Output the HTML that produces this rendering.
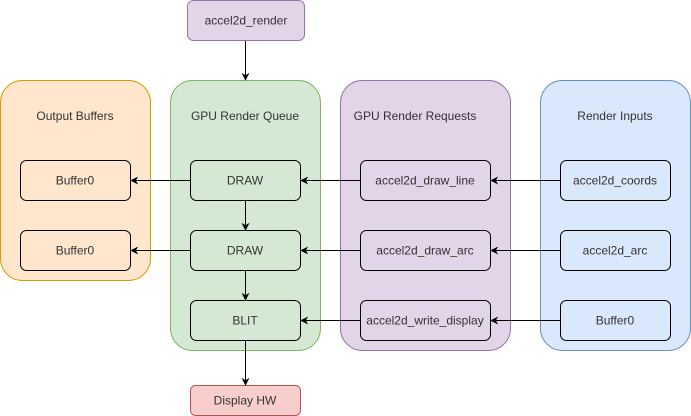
<!DOCTYPE html>
<html><head><meta charset="utf-8"><style>
html,body{margin:0;padding:0;background:#fff;}
svg{display:block;}
text{font-family:"Liberation Sans",Arial,sans-serif;font-size:12px;fill:#333;text-anchor:middle;dominant-baseline:central;}
</style></head><body>
<svg width="691" height="416" viewBox="0 0 691 416">
<defs><marker id="a" viewBox="0 0 10 10" refX="9" refY="5" markerWidth="8" markerHeight="8" markerUnits="userSpaceOnUse" orient="auto"><path d="M0,0 L10,5 L0,10 L3,5 Z" fill="#000"/></marker></defs>
<rect x="187.5" y="0.5" width="117" height="40" rx="6" fill="#e1d5e7" stroke="#9673a6"/>
<text x="246" y="20.5">accel2d_render</text>
<rect x="0.5" y="80.5" width="150" height="200" rx="22" fill="#ffe6cc" stroke="#d79b00"/>
<rect x="170.5" y="80.5" width="150" height="270" rx="22" fill="#d5e8d4" stroke="#82b366"/>
<rect x="340.5" y="80.5" width="170" height="270" rx="22" fill="#e1d5e7" stroke="#9673a6"/>
<rect x="540.5" y="80.5" width="150" height="270" rx="22" fill="#dae8fc" stroke="#6c8ebf"/>
<text x="75" y="116">Output Buffers</text>
<text x="245" y="116">GPU Render Queue</text>
<text x="415" y="116">GPU Render Requests</text>
<text x="615" y="116">Render Inputs</text>
<g stroke="#000" fill="none">
<rect x="20.5" y="160.5" width="110" height="40" rx="6"/>
<rect x="20.5" y="230.5" width="110" height="40" rx="6"/>
<rect x="190.5" y="160.5" width="110" height="40" rx="6"/>
<rect x="190.5" y="230.5" width="110" height="40" rx="6"/>
<rect x="190.5" y="300.5" width="110" height="40" rx="6"/>
<rect x="360.5" y="160.5" width="130" height="40" rx="6"/>
<rect x="360.5" y="230.5" width="130" height="40" rx="6"/>
<rect x="360.5" y="300.5" width="130" height="40" rx="6"/>
<rect x="560.5" y="160.5" width="110" height="40" rx="6"/>
<rect x="560.5" y="230.5" width="110" height="40" rx="6"/>
<rect x="560.5" y="300.5" width="110" height="40" rx="6"/>
</g>
<rect x="190.5" y="385.5" width="110" height="30" rx="5" fill="#f8cecc" stroke="#b85450"/>
<text x="245" y="400.5">Display HW</text>
<text x="75" y="180.5">Buffer0</text>
<text x="75" y="250.5">Buffer0</text>
<text x="245" y="180.5">DRAW</text>
<text x="245" y="250.5">DRAW</text>
<text x="245" y="320.5">BLIT</text>
<text x="425" y="180.5">accel2d_draw_line</text>
<text x="425" y="250.5">accel2d_draw_arc</text>
<text x="425" y="320.5">accel2d_write_display</text>
<text x="615" y="180.5">accel2d_coords</text>
<text x="615" y="250.5">accel2d_arc</text>
<text x="615" y="320.5">Buffer0</text>
<g stroke="#000" stroke-width="1" marker-end="url(#a)">
<line x1="245.5" y1="41" x2="245.5" y2="80"/>
<line x1="245.5" y1="201" x2="245.5" y2="230"/>
<line x1="245.5" y1="271" x2="245.5" y2="300"/>
<line x1="245.5" y1="341" x2="245.5" y2="385"/>
<line x1="190" y1="180.5" x2="131" y2="180.5"/>
<line x1="190" y1="250.5" x2="131" y2="250.5"/>
<line x1="360" y1="180.5" x2="301" y2="180.5"/>
<line x1="360" y1="250.5" x2="301" y2="250.5"/>
<line x1="360" y1="320.5" x2="301" y2="320.5"/>
<line x1="560" y1="180.5" x2="491" y2="180.5"/>
<line x1="560" y1="250.5" x2="491" y2="250.5"/>
<line x1="560" y1="320.5" x2="491" y2="320.5"/>
</g>
</svg>
</body></html>
